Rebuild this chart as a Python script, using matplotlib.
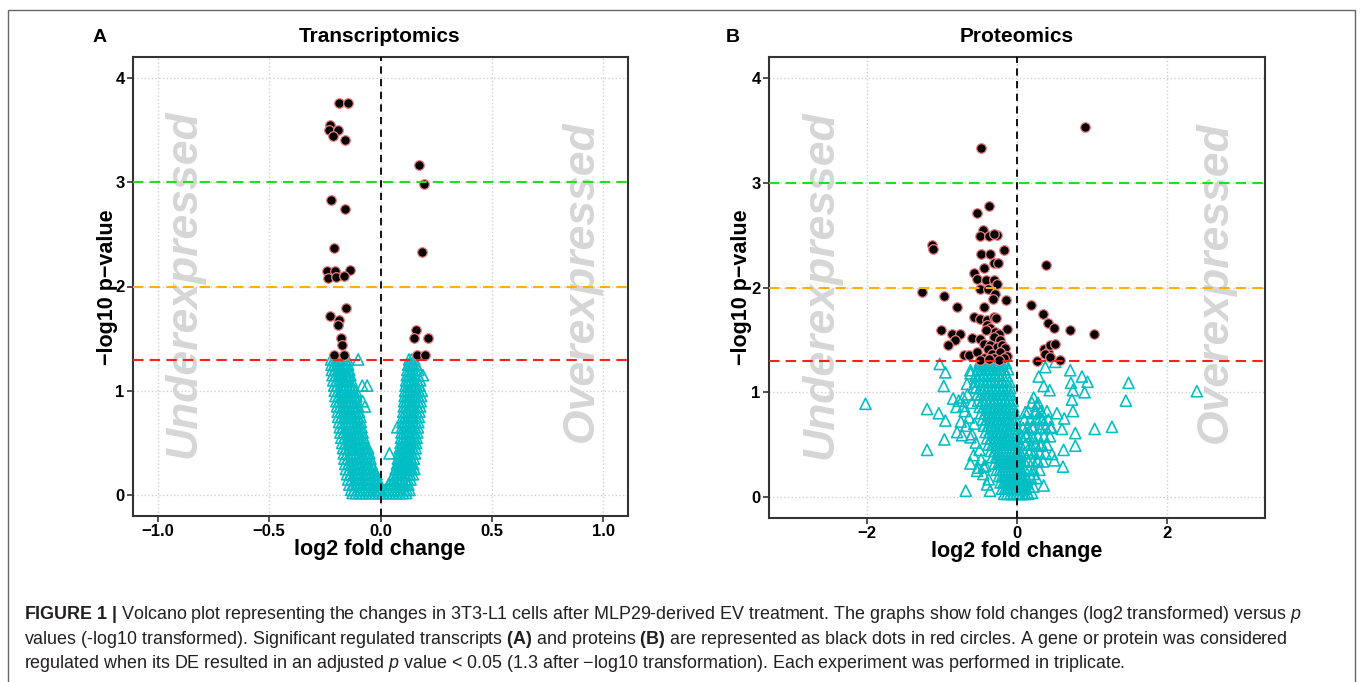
import matplotlib
matplotlib.use("Agg")
import matplotlib.pyplot as plt
from matplotlib.patches import Rectangle

plt.rcParams['font.family'] = ['Liberation Sans', 'DejaVu Sans']
plt.rcParams['mathtext.fontset'] = 'custom'
plt.rcParams['mathtext.rm'] = 'Liberation Sans'
plt.rcParams['mathtext.it'] = 'Liberation Sans:italic'
plt.rcParams['mathtext.bf'] = 'Liberation Sans:bold'

# ---------------- Panel A: Transcriptomics ----------------
# significant transcripts (black dots in red circles)
sig_a_x = [-0.186, -0.145, -0.228, -0.231, -0.189, -0.212, -0.161, 0.174, 0.195,
           -0.222, -0.161, -0.209, 0.186, -0.238, -0.204, -0.137, -0.234, -0.198,
           -0.164, -0.155, -0.225, -0.186, -0.189, -0.179, -0.171, -0.209, -0.162,
           0.159, 0.151, 0.212, 0.164, 0.201]
sig_a_y = [3.76, 3.76, 3.55, 3.50, 3.50, 3.44, 3.40, 3.16, 2.98,
           2.83, 2.74, 2.37, 2.33, 2.15, 2.15, 2.16, 2.08, 2.09,
           2.10, 1.79, 1.72, 1.68, 1.63, 1.51, 1.44, 1.34, 1.34,
           1.58, 1.51, 1.51, 1.34, 1.34]

# non significant transcripts, read row by row (y level -> x values)
ns_a_levels = [1.30, 1.25, 1.20, 1.15, 1.10, 1.05, 1.00, 0.95, 0.90, 0.85, 0.80, 0.75, 0.70,
               0.65, 0.60, 0.55, 0.50, 0.45, 0.40, 0.35, 0.30, 0.25, 0.20, 0.15, 0.10, 0.05]
ns_a_left = [
    [-0.222, -0.21, -0.198, -0.186, -0.172, -0.16, -0.148, -0.10],
    [-0.22, -0.208, -0.195, -0.183, -0.17, -0.158, -0.145],
    [-0.218, -0.205, -0.192, -0.18, -0.167, -0.155, -0.14],
    [-0.215, -0.2, -0.188, -0.175, -0.16, -0.148, -0.135],
    [-0.212, -0.198, -0.185, -0.172, -0.158, -0.145, -0.13],
    [-0.208, -0.195, -0.18, -0.168, -0.155, -0.14, -0.128, -0.082, -0.06],
    [-0.205, -0.19, -0.178, -0.165, -0.152, -0.138, -0.125, -0.11],
    [-0.202, -0.188, -0.175, -0.16, -0.148, -0.135, -0.12, -0.108],
    [-0.198, -0.185, -0.172, -0.158, -0.145, -0.132, -0.118, -0.104, -0.08],
    [-0.195, -0.182, -0.168, -0.155, -0.142, -0.128, -0.115, -0.10, -0.07],
    [-0.192, -0.178, -0.165, -0.152, -0.138, -0.125, -0.11, -0.096],
    [-0.19, -0.176, -0.162, -0.148, -0.135, -0.12, -0.106, -0.09],
    [-0.186, -0.172, -0.158, -0.145, -0.132, -0.118, -0.104, -0.088],
    [-0.183, -0.17, -0.156, -0.142, -0.128, -0.114, -0.10, -0.085],
    [-0.18, -0.166, -0.152, -0.138, -0.124, -0.11, -0.096, -0.08],
    [-0.176, -0.162, -0.148, -0.134, -0.12, -0.106, -0.092, -0.076],
    [-0.172, -0.158, -0.144, -0.13, -0.116, -0.102, -0.088, -0.072],
    [-0.168, -0.155, -0.14, -0.126, -0.112, -0.098, -0.084, -0.068, -0.055],
    [-0.165, -0.15, -0.136, -0.122, -0.108, -0.094, -0.08, -0.064, -0.05],
    [-0.162, -0.148, -0.134, -0.12, -0.105, -0.09, -0.075, -0.06, -0.045],
    [-0.158, -0.144, -0.13, -0.115, -0.10, -0.085, -0.07, -0.055, -0.04],
    [-0.155, -0.14, -0.125, -0.11, -0.095, -0.08, -0.065, -0.05, -0.034],
    [-0.15, -0.136, -0.12, -0.105, -0.09, -0.075, -0.06, -0.045, -0.03, -0.018],
    [-0.145, -0.13, -0.115, -0.10, -0.085, -0.07, -0.055, -0.04, -0.025, -0.012],
    [-0.14, -0.125, -0.11, -0.095, -0.08, -0.065, -0.05, -0.035, -0.02, -0.006],
    [-0.132, -0.118, -0.104, -0.09, -0.075, -0.06, -0.045, -0.03, -0.016, -0.004],
]
ns_a_right = [
    [0.128, 0.14, 0.152],
    [0.124, 0.136, 0.148, 0.16],
    [0.12, 0.132, 0.145, 0.158, 0.17],
    [0.118, 0.13, 0.142, 0.155, 0.168, 0.19],
    [0.115, 0.128, 0.14, 0.152, 0.165, 0.178],
    [0.112, 0.125, 0.138, 0.15, 0.162, 0.175],
    [0.11, 0.122, 0.135, 0.148, 0.16, 0.172, 0.185],
    [0.108, 0.12, 0.132, 0.145, 0.158, 0.17, 0.182],
    [0.106, 0.118, 0.13, 0.142, 0.155, 0.168, 0.18],
    [0.104, 0.116, 0.128, 0.14, 0.152, 0.165, 0.178],
    [0.102, 0.114, 0.126, 0.138, 0.15, 0.162, 0.175],
    [0.10, 0.112, 0.124, 0.136, 0.148, 0.16, 0.172],
    [0.098, 0.11, 0.122, 0.134, 0.146, 0.158, 0.17],
    [0.075, 0.096, 0.108, 0.12, 0.132, 0.144, 0.156, 0.168],
    [0.094, 0.106, 0.118, 0.13, 0.142, 0.154, 0.165],
    [0.092, 0.104, 0.116, 0.128, 0.14, 0.152, 0.162],
    [0.09, 0.102, 0.114, 0.126, 0.138, 0.15, 0.16],
    [0.086, 0.098, 0.11, 0.122, 0.134, 0.146, 0.158],
    [0.04, 0.082, 0.094, 0.106, 0.118, 0.13, 0.142, 0.155],
    [0.078, 0.09, 0.102, 0.114, 0.126, 0.138, 0.15],
    [0.074, 0.086, 0.098, 0.11, 0.122, 0.134, 0.146],
    [0.068, 0.08, 0.092, 0.104, 0.116, 0.128, 0.14, 0.152],
    [0.06, 0.072, 0.084, 0.096, 0.108, 0.12, 0.132, 0.145],
    [0.05, 0.062, 0.074, 0.086, 0.098, 0.11, 0.122, 0.135],
    [0.035, 0.048, 0.06, 0.072, 0.085, 0.098, 0.11, 0.125],
    [0.02, 0.034, 0.048, 0.062, 0.076, 0.09, 0.104, 0.118, 0.13],
]
# bottom band of transcripts just above zero
ns_a_base_x = [-0.125, -0.11, -0.095, -0.08, -0.065, -0.05, -0.035, -0.02, -0.005,
               0.01, 0.025, 0.04, 0.055, 0.07, 0.085, 0.10, 0.115]
ns_a_base_y = [0.02] * 17

# ---------------- Panel B: Proteomics ----------------
sig_b_x = [0.902, -0.476, -0.373, -0.533, -1.133, -1.124,
           -0.453, -0.489, -0.378, -0.267, -0.311, -0.178, -0.48, -0.364, 0.387,
           -0.311, -0.258, -0.444, -0.578, -0.533, -0.413, -0.311, -0.267,
           -0.489, -0.391, -0.289, -1.267, -0.969, -0.142, -0.324, -0.80, -0.444, 0.187,
           -0.569, -0.489, -0.40, -0.311, -0.276, 0.347, 0.409, 0.498, 0.711, 1.031,
           -1.009, -0.867, -0.764, -0.831, -0.924, -0.133,
           -0.40, -0.356, -0.289, -0.244, -0.409, -0.311, -0.231,
           -0.60, -0.489, -0.444, -0.356, -0.267, -0.20, -0.156,
           -0.711, -0.644, -0.533, -0.391, -0.333, -0.222, -0.133,
           -0.444, -0.311, -0.178, -0.489, -0.244, -0.378,
           0.356, 0.409, 0.444, 0.511, 0.378, 0.436, 0.569, 0.267]
sig_b_y = [3.53, 3.33, 2.78, 2.71, 2.41, 2.37,
           2.55, 2.49, 2.49, 2.50, 2.51, 2.36, 2.32, 2.32, 2.21,
           2.23, 2.23, 2.19, 2.14, 2.08, 2.07, 2.07, 2.03,
           1.99, 1.99, 1.94, 1.96, 1.92, 1.88, 1.89, 1.81, 1.81, 1.83,
           1.72, 1.70, 1.69, 1.72, 1.71, 1.75, 1.66, 1.61, 1.59, 1.56,
           1.59, 1.56, 1.56, 1.50, 1.45, 1.60,
           1.64, 1.61, 1.58, 1.56, 1.59, 1.53, 1.50,
           1.52, 1.51, 1.46, 1.45, 1.43, 1.45, 1.42,
           1.36, 1.36, 1.38, 1.41, 1.37, 1.38, 1.35,
           1.33, 1.33, 1.33, 1.31, 1.31, 1.32,
           1.41, 1.38, 1.45, 1.46, 1.37, 1.34, 1.31, 1.30]

# dense core of non significant proteins, row by row
ns_b_levels = [1.28, 1.22, 1.16, 1.10, 1.04, 0.98, 0.92, 0.86, 0.80, 0.74, 0.68,
               0.62, 0.56, 0.50, 0.44, 0.38, 0.32, 0.26, 0.20, 0.14, 0.08, 0.03]
ns_b_core = [
    [-0.50, -0.45, -0.40, -0.35, -0.30, -0.25, -0.20, -0.15],
    [-0.52, -0.47, -0.42, -0.37, -0.32, -0.27, -0.22, -0.17, -0.12],
    [-0.55, -0.49, -0.44, -0.39, -0.34, -0.29, -0.24, -0.19, -0.14],
    [-0.56, -0.50, -0.45, -0.40, -0.35, -0.30, -0.25, -0.20, -0.15, -0.10],
    [-0.55, -0.49, -0.44, -0.39, -0.34, -0.29, -0.24, -0.19, -0.14, -0.09],
    [-0.53, -0.48, -0.43, -0.38, -0.33, -0.28, -0.23, -0.18, -0.13, -0.08],
    [-0.52, -0.46, -0.41, -0.36, -0.31, -0.26, -0.21, -0.16, -0.11, -0.06],
    [-0.50, -0.45, -0.40, -0.35, -0.30, -0.25, -0.20, -0.15, -0.10, -0.05],
    [-0.48, -0.43, -0.38, -0.33, -0.28, -0.23, -0.18, -0.13, -0.08, -0.03],
    [-0.46, -0.41, -0.36, -0.31, -0.26, -0.21, -0.16, -0.11, -0.06, -0.02],
    [-0.44, -0.39, -0.34, -0.29, -0.24, -0.19, -0.14, -0.09, -0.05, -0.01],
    [-0.42, -0.37, -0.32, -0.27, -0.22, -0.17, -0.12, -0.08, -0.04, 0.00],
    [-0.40, -0.35, -0.30, -0.25, -0.20, -0.15, -0.11, -0.07, -0.03, 0.01],
    [-0.38, -0.33, -0.28, -0.23, -0.18, -0.14, -0.10, -0.06, -0.02, 0.02],
    [-0.35, -0.30, -0.25, -0.20, -0.16, -0.12, -0.08, -0.04, 0.00, 0.03],
    [-0.33, -0.28, -0.23, -0.19, -0.15, -0.11, -0.07, -0.03, 0.01, 0.04],
    [-0.30, -0.25, -0.21, -0.17, -0.13, -0.09, -0.05, -0.01, 0.03],
    [-0.27, -0.23, -0.19, -0.15, -0.11, -0.07, -0.03, 0.01, 0.04],
    [-0.24, -0.20, -0.16, -0.12, -0.08, -0.04, 0.00, 0.04, 0.07],
    [-0.22, -0.18, -0.14, -0.10, -0.06, -0.02, 0.02, 0.06, 0.10],
    [-0.20, -0.16, -0.12, -0.08, -0.04, 0.00, 0.04, 0.08, 0.12],
    [-0.17, -0.13, -0.09, -0.05, -0.01, 0.03, 0.07, 0.11, 0.15],
]
# smaller cone of proteins just right of zero
ns_b_right_levels = [0.90, 0.82, 0.74, 0.66, 0.58, 0.50, 0.42, 0.34, 0.26, 0.18, 0.10, 0.04]
ns_b_right = [
    [0.20, 0.28],
    [0.15, 0.25, 0.32, 0.40],
    [0.10, 0.18, 0.26, 0.34, 0.42],
    [0.08, 0.14, 0.22, 0.30, 0.38, 0.46],
    [0.06, 0.12, 0.20, 0.28, 0.36, 0.44],
    [0.05, 0.11, 0.18, 0.25, 0.33, 0.40],
    [0.05, 0.10, 0.16, 0.23, 0.30, 0.38],
    [0.05, 0.10, 0.15, 0.21, 0.28, 0.35],
    [0.06, 0.11, 0.16, 0.22, 0.30],
    [0.08, 0.13, 0.19, 0.26],
    [0.10, 0.16, 0.22],
    [0.14, 0.20],
]
# scattered non significant proteins
ns_b_x = [-2.022, -1.031, -0.956, -0.978, -1.20, -1.044, -0.956, -0.80, -0.969, -1.20, -0.684,
          -0.853, -0.778, -0.809, -0.711, -0.733, -0.622, -0.622, -0.533, -0.378, -0.444,
          -0.667, -0.622, -0.489, -0.49, -0.18,
          -0.62, -0.58, -0.66, -0.60, -0.70, -0.64, -0.57, -0.68, -0.60, -0.55, -0.50,
          -0.58, -0.48, -0.52, -0.45, -0.40, -0.36, -0.42, -0.75, -0.72,
          2.40, 1.489, 1.453, 1.267, 1.036, 0.778, 0.778, 0.622, 0.613,
          0.711, 0.867, 0.942, 0.72, 0.747, 0.902, 0.733, 0.747, 0.631, 0.60,
          0.511, 0.378, 0.289, 0.356, 0.436, 0.533, 0.444, 0.356, 0.467, 0.356, 0.498,
          0.222, 0.267, 0.244, 0.311, 0.20, 0.111, 0.133, 0.222, 0.311, 0.178, 0.267, 0.222, 0.133]
ns_b_y = [0.89, 1.27, 1.19, 1.06, 0.84, 0.80, 0.73, 0.62, 0.55, 0.45, 0.06,
          0.94, 0.92, 0.86, 0.87, 0.59, 0.57, 0.32, 0.25, 0.17, 0.29,
          1.08, 1.21, 1.27, 1.30, 1.30,
          1.18, 1.05, 0.98, 0.90, 0.82, 0.76, 0.70, 0.68, 0.60, 0.52, 0.45,
          0.40, 0.36, 0.28, 0.22, 0.12, 0.06, 0.30, 0.72, 0.95,
          1.01, 1.09, 0.92, 0.67, 0.65, 0.61, 0.49, 0.45, 0.29,
          1.21, 1.15, 1.10, 1.09, 1.02, 1.00, 0.93, 0.82, 0.75, 0.65,
          1.29, 1.24, 1.15, 1.06, 1.02, 0.80, 0.67, 0.70, 0.41, 0.11, 0.35,
          0.95, 0.87, 0.80, 0.76, 0.67, 0.81, 0.61, 0.56, 0.49, 0.45, 0.35, 0.22, 0.16]


def rows_to_xy(levels, rows):
    xs, ys = [], []
    for lev, row in zip(levels, rows):
        xs += row
        ys += [lev] * len(row)
    return xs, ys


W, H = 1363, 682
fig = plt.figure(figsize=(W / 100, H / 100), dpi=100)

CYAN = '#00BEC4'
GRID = '#d0d0d0'


def volcano(ax, tri_x, tri_y, dot_x, dot_y, xlim, xticks, under_x, over_x):
    ax.set_xlim(xlim)
    ax.set_ylim(-0.2, 4.2)
    ax.set_xticks(xticks)
    ax.set_yticks([0, 1, 2, 3, 4])
    ax.grid(True, color=GRID, linestyle=':', linewidth=1)
    ax.set_axisbelow(True)
    for sp in ax.spines.values():
        sp.set_color('#333333')
        sp.set_linewidth(1.5)
    ax.tick_params(length=4, width=1.2, color='#333333', labelsize=12, pad=2)
    for lab in ax.get_xticklabels() + ax.get_yticklabels():
        lab.set_fontweight('bold')

    ax.text(under_x, 2.03, 'Underexpressed', rotation=90, ha='center', va='center',
            fontsize=32, fontweight='bold', fontstyle='italic', color='#d6d6d6', zorder=1)
    ax.text(over_x, 2.05, 'Overexpressed', rotation=90, ha='center', va='center',
            fontsize=32, fontweight='bold', fontstyle='italic', color='#d6d6d6', zorder=1)

    ax.scatter(tri_x, tri_y, marker='^', s=64, facecolors='none', edgecolors=CYAN,
               linewidths=1.15, zorder=2)
    ax.scatter(dot_x, dot_y, marker='o', s=48, facecolors='black', edgecolors='#f08080',
               linewidths=0.9, zorder=3)

    ax.axhline(3, color='#22dd22', linestyle=(0, (5, 3)), linewidth=1.5, zorder=4)
    ax.axhline(2, color='#ffb000', linestyle=(0, (5, 3)), linewidth=1.5, zorder=4)
    ax.axhline(1.3, color='#ff2020', linestyle=(0, (5, 3)), linewidth=1.5, zorder=4)
    ax.axvline(0, color='black', linestyle=(0, (4, 3)), linewidth=1.3, zorder=4)


# panel A
la_x, la_y = rows_to_xy(ns_a_levels, ns_a_left)
ra_x, ra_y = rows_to_xy(ns_a_levels, ns_a_right)
tri_a_x = la_x + ra_x + ns_a_base_x
tri_a_y = la_y + ra_y + ns_a_base_y

ax_a = fig.add_axes([133 / W, (H - 516) / H, (628 - 133) / W, (516 - 57) / H])
volcano(ax_a, tri_a_x, tri_a_y, sig_a_x, sig_a_y, (-1.11, 1.11),
        [-1.0, -0.5, 0.0, 0.5, 1.0], -0.88, 0.90)

# panel B
cb_x, cb_y = rows_to_xy(ns_b_levels, ns_b_core)
rb_x, rb_y = rows_to_xy(ns_b_right_levels, ns_b_right)
tri_b_x = cb_x + rb_x + ns_b_x
tri_b_y = cb_y + rb_y + ns_b_y

ax_b = fig.add_axes([769 / W, (H - 518) / H, (1265 - 769) / W, (518 - 57) / H])
volcano(ax_b, tri_b_x, tri_b_y, sig_b_x, sig_b_y, (-3.31, 3.31),
        [-2, 0, 2], -2.62, 2.65)

# titles, letters and axis labels
def px(x, y):
    return x / W, 1 - y / H

fig.text(*px(100, 37), 'A', fontsize=14, fontweight='bold', ha='center', va='center')
fig.text(*px(380, 37), 'Transcriptomics', fontsize=15, fontweight='bold', ha='center', va='center')
fig.text(*px(733, 37), 'B', fontsize=14, fontweight='bold', ha='center', va='center')
fig.text(*px(1017, 37), 'Proteomics', fontsize=15, fontweight='bold', ha='center', va='center')

fig.text(*px(380, 549), 'log2 fold change', fontsize=15.5, fontweight='bold', ha='center', va='center')
fig.text(*px(1017, 552), 'log2 fold change', fontsize=15.5, fontweight='bold', ha='center', va='center')
fig.text(*px(107, 287), '\u2212log10 p\u2212value', fontsize=15.5, fontweight='bold',
         rotation=90, ha='center', va='center')
fig.text(*px(742, 287), '\u2212log10 p\u2212value', fontsize=15.5, fontweight='bold',
         rotation=90, ha='center', va='center')

# caption
cap = [
    r'$\mathbf{FIGURE\ 1\ |}$ Volcano plot representing the changes in 3T3-L1 cells after '
    r'MLP29-derived EV treatment. The graphs show fold changes (log2 transformed) versus $\mathit{p}$',
    r'values (-log10 transformed). Significant regulated transcripts $\mathbf{(A)}$ and proteins '
    r'$\mathbf{(B)}$ are represented as black dots in red circles. A gene or protein was considered',
    r'regulated when its DE resulted in an adjusted $\mathit{p}$ value < 0.05 (1.3 after '
    '\u2212log10 transformation). Each experiment was performed in triplicate.',
]
for i, line in enumerate(cap):
    fig.text(*px(24, 619 + i * 24.5), line, fontsize=12.9, color='#231f20',
             ha='left', va='baseline')

# outer frame
fig.add_artist(Rectangle((8 / W, -0.02), (1355 - 8) / W, 1 - 10 / H + 0.02,
                         transform=fig.transFigure, fill=False,
                         edgecolor='#666666', linewidth=1))

fig.savefig('out.png', dpi=100)
